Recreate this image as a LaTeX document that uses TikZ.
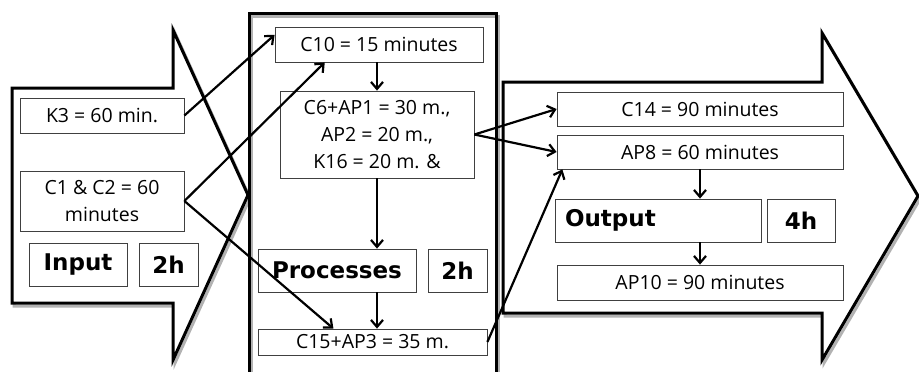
\documentclass[tikz,border=0pt]{standalone}
\usepackage{fontspec}
\setmainfont{Open Sans}
\newfontfamily\boldlbl{DejaVu Sans Bold}
\usetikzlibrary{arrows.meta,calc}
\begin{document}
\begin{tikzpicture}[x=1pt,y=-1pt,
  box/.style={draw=black!75,line width=0.8pt,fill=white,inner sep=0pt,align=center,font=\fontsize{19.5}{27}\selectfont},
  bigbox/.style={box,font=\fontsize{23}{26}\boldlbl},
  conn/.style={line width=2.2pt,-{Straight Barb[length=7pt,width=12pt,line width=2.2pt]}},
  outline/.style={line width=3pt,line join=miter},
  shade/.style={line width=3pt,draw=black!30}]
\useasboundingbox (0,0) rectangle (919,372);
% input arrow
\draw[shade,shift={(2,3)}] (12,88) -- (173,88) -- (173,30) -- (248,195) -- (173,360) -- (173,303) -- (12,303) -- cycle;
\draw[outline,fill=white] (12,88) -- (173,88) -- (173,30) -- (248,195) -- (173,360) -- (173,303) -- (12,303) -- cycle;
% output arrow
\draw[shade,shift={(2,3)}] (503,82) -- (822,82) -- (822,33) -- (918,196) -- (822,360) -- (822,313) -- (503,313) -- cycle;
\draw[outline,fill=white] (503,82) -- (822,82) -- (822,33) -- (918,196) -- (822,360) -- (822,313) -- (503,313) -- cycle;
% middle box
\draw[shade,shift={(2,3)}] (249,13) rectangle (496,374);
\draw[outline] (249,13) rectangle (496,374);
% nodes
\node[box,minimum width=164,minimum height=35] (K3) at (102,115.5) {K3 = 60 min.};
\node[box,minimum width=164,minimum height=60] (C12) at (102,201) {C1 \& C2 = 60\\minutes};
\node[bigbox,minimum width=98,minimum height=43] (In) at (78,264.5) {Input};
\node[bigbox,minimum width=59,minimum height=43] (In2h) at (168.5,264.5) {2h};
\node[box,minimum width=208,minimum height=35] (C10) at (379,44.5) {C10 = 15 minutes};
\node[box,minimum width=194,minimum height=87] (C6) at (377,134.5) {C6+AP1 = 30 m.,\\AP2 = 20 m.,\\K16 = 20 m. \&};
\node[bigbox,minimum width=158,minimum height=43] (Pr) at (337,270.5) {Processes};
\node[bigbox,minimum width=59,minimum height=43] (Pr2h) at (457.5,270.5) {2h};
\node[box,minimum width=229,minimum height=26] (C15) at (372.5,342) {C15+AP3 = 35 m.};
\node[box,minimum width=286,minimum height=34] (C14) at (700,109) {C14 = 90 minutes};
\node[box,minimum width=286,minimum height=34] (AP8) at (700,152) {AP8 = 60 minutes};
\node[bigbox,minimum width=206,minimum height=43,text width=186,align=left] (Out) at (658,220.5) {Output};
\node[bigbox,minimum width=68,minimum height=43] (Out4h) at (801,220.5) {4h};
\node[box,minimum width=286,minimum height=35] (AP10) at (700,282.5) {AP10 = 90 minutes};
% connectors
\draw[conn] (K3.east) -- ($(C10.north west)!0.23!(C10.south west)$);
\draw[conn] (C12.east) -- ($(C10.south west)!0.24!(C10.south east)$);
\draw[conn] (C12.east) -- ($(C15.north west)!0.33!(C15.north east)$);
\draw[conn] (C10.south -| C6.north) -- (C6.north);
\draw[conn] (C6.south) -- (C6.south |- Pr.north);
\draw[conn] (C6.south |- Pr.south) -- (C6.south |- C15.north);
\draw[conn] (C6.east) -- (C14.west);
\draw[conn] (C6.east) -- (AP8.west);
\draw[conn] (C15.east) -- ($(AP8.south west)!0.02!(AP8.south east)$);
\draw[conn] (AP8.south) -- (AP8.south |- Out.north);
\draw[conn] (AP8.south |- Out.south) -- (AP10.north);
\end{tikzpicture}
\end{document}
